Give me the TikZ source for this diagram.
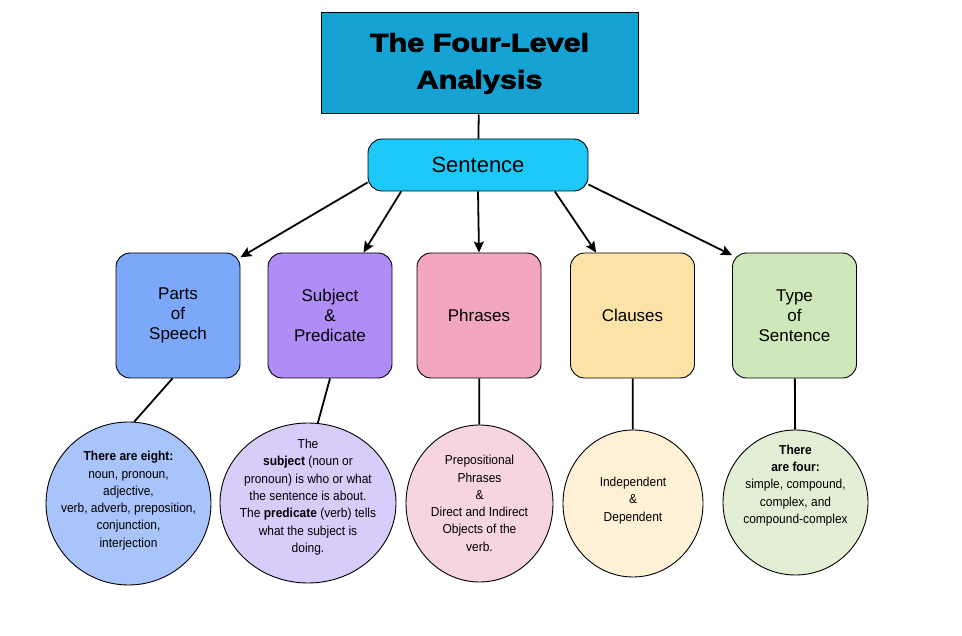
\documentclass[tikz,border=0pt]{standalone}
\usepackage{fontspec}
\setmainfont{Liberation Sans}
\newfontfamily\titlefont[FakeBold=3,FakeStretch=1.2]{Liberation Sans Bold}
\newfontfamily\bubblefont[FakeStretch=0.92]{Liberation Sans}
\usetikzlibrary{arrows.meta,shapes.geometric}
\definecolor{titleblue}{HTML}{17A2D4}
\definecolor{sentblue}{HTML}{1CC9F8}
\definecolor{partsbox}{HTML}{7BA8F9}
\definecolor{partscirc}{HTML}{A9C4FA}
\definecolor{subjbox}{HTML}{B08CF7}
\definecolor{subjcirc}{HTML}{D8CCFA}
\definecolor{phrbox}{HTML}{F2A6C2}
\definecolor{phrcirc}{HTML}{F6D4E1}
\definecolor{claubox}{HTML}{FCE2A6}
\definecolor{claucirc}{HTML}{FFF1D6}
\definecolor{typebox}{HTML}{CEE8B9}
\definecolor{typecirc}{HTML}{E2EFD5}
\newcommand\bubble[2][0pt]{\makebox[0pt]{\smash{\raisebox{#1}{\begin{tabular}{@{}c@{}}#2\end{tabular}}}}}
\begin{document}
\begin{tikzpicture}[x=1pt,y=-1pt,
  box/.style={draw, rounded corners=14pt, minimum width=124pt, minimum height=125pt, align=center, font=\fontsize{17}{20}\selectfont, line width=0.9pt},
  blob/.style={draw, ellipse, inner sep=0pt, font=\bubblefont\fontsize{13}{17.3}\selectfont, line width=0.9pt},
  arr/.style={-{Stealth[length=11pt,width=10pt,inset=2pt]}, line width=1.8pt},
  link/.style={line width=1.8pt}]
\useasboundingbox (0,0) rectangle (962,636);
\node[draw, fill=titleblue, minimum width=317pt, minimum height=101pt, align=center, font=\titlefont\fontsize{25.5}{37}\selectfont, line width=1pt] (title) at (479.5,63.5) {The Four-Level\\Analysis};
\node[draw, fill=sentblue, rounded corners=14pt, minimum width=220pt, minimum height=52pt, font=\fontsize{22}{26}\selectfont, line width=0.9pt] (sent) at (478,165) {Sentence};
\node[box, fill=partsbox] (parts) at (178,315.5) {Parts\\of\\Speech};
\node[box, fill=subjbox] (subj) at (330,315.5) {Subject\\\&\\Predicate};
\node[box, fill=phrbox] (phr) at (479,315.5) {Phrases};
\node[box, fill=claubox] (clau) at (632.5,315.5) {Clauses};
\node[box, fill=typebox] (type) at (794.5,315.5) {Type\\of\\Sentence};
\node[blob, fill=partscirc, minimum width=165pt, minimum height=163pt] (partsc) at (128.5,503.5) {\bubble{\textbf{There are eight:}\\noun, pronoun,\\adjective,\\verb, adverb, preposition,\\conjunction,\\interjection}};
\node[blob, fill=subjcirc, minimum width=176pt, minimum height=160pt] (subjc) at (308,503) {\bubble[3pt]{The\\\textbf{subject} (noun or\\pronoun) is who or what\\the sentence is about.\\The \textbf{predicate} (verb) tells\\what the subject is\\doing.}};
\node[blob, fill=phrcirc, minimum width=147pt, minimum height=157pt] (phrc) at (479.5,503.5) {\bubble[-4pt]{Prepositional\\Phrases\\\&\\Direct and Indirect\\Objects of the\\verb.}};
\node[blob, fill=claucirc, minimum width=140pt, minimum height=147pt] (clauc) at (633,503.5) {\bubble{Independent\\\&\\Dependent}};
\node[blob, fill=typecirc, minimum width=145pt, minimum height=145pt] (typec) at (795.5,502.5) {\bubble[14pt]{\textbf{There}\\\textbf{are four:}\\simple, compound,\\complex, and\\compound-complex}};
\draw[link] (title) -- (sent);
\draw[arr] (sent.189) -- (parts.43);
\draw[arr] (sent.199) -- (subj.62);
\draw[arr] (sent.south) -- (phr.north);
\draw[arr] (sent.341) -- (clau.120);
\draw[arr] (sent.350) -- (type.136);
\draw[link] (parts.265) -- (partsc.86);
\draw[link] (subj.south) -- (subjc.83);
\draw[link] (phr) -- (phrc);
\draw[link] (clau) -- (clauc);
\draw[link] (type) -- (typec);
\end{tikzpicture}
\end{document}
